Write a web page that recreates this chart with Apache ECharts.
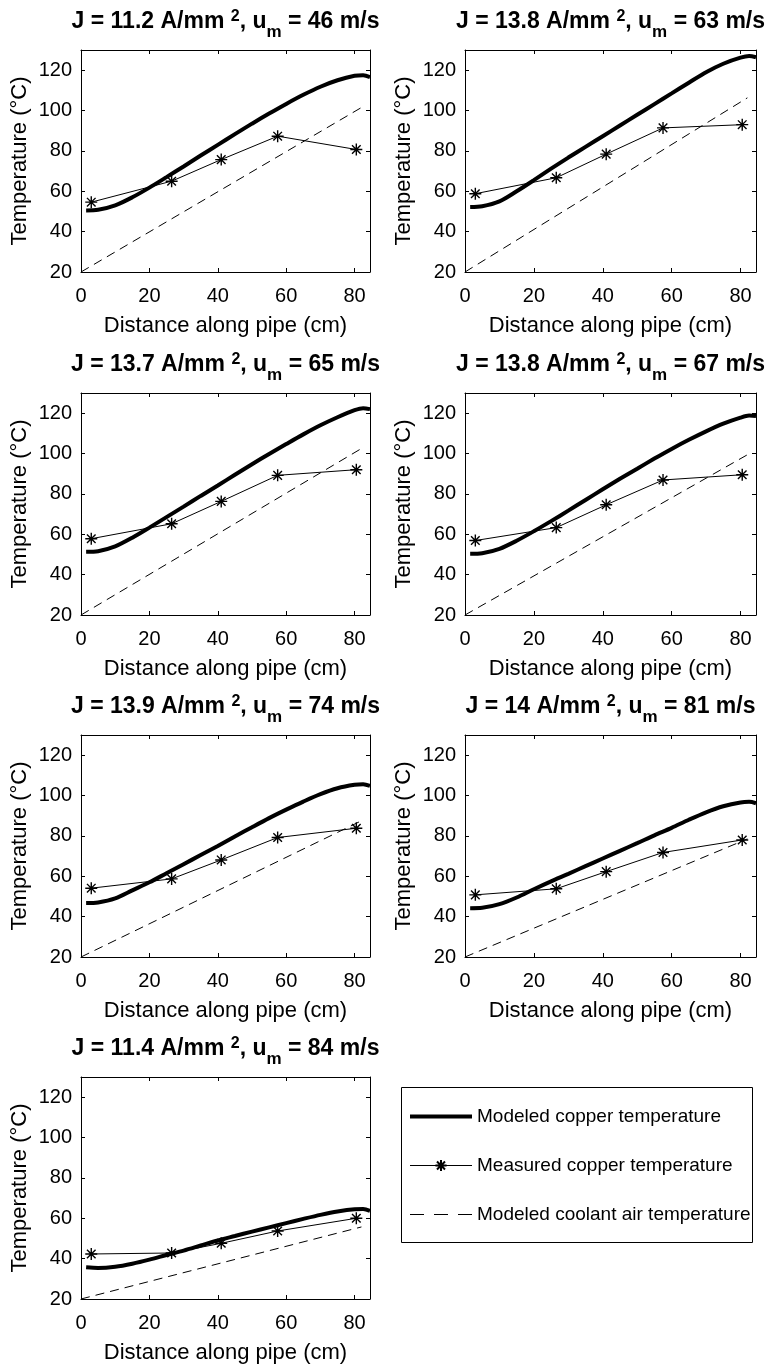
<!DOCTYPE html>
<html><head><meta charset="utf-8">
<script src="https://cdn.jsdelivr.net/npm/echarts@6/dist/echarts.min.js"></script>
<style>html,body{margin:0;padding:0;background:#fff}#c{width:768px;height:1367px}</style>
</head><body><div id="c"></div>
<script>
// ---------- data ----------
const currentDensity = ['11.2', '13.8', '13.7', '13.8', '13.9', '14', '11.4'];
const airSpeed = ['46', '63', '65', '67', '74', '81', '84'];

const xTickLabels = [0, 20, 40, 60, 80];
const yTickLabels = [20, 40, 60, 80, 100, 120];

// positions along the pipe where the modelled copper curve was read (cm)
const modelX = [1.5, 5, 10, 15, 20, 25, 30, 35, 40, 45, 50, 55, 60, 65, 70, 75, 80, 82.5, 84.5];
const copperP1 = [50.5, 50.8, 53, 57, 61.8, 67, 72.3, 77.7, 83, 88.3, 93.5, 98.5, 103.3, 107.8, 111.8, 115, 117.2, 117.5, 116.6];
const copperP2 = [52.2, 52.6, 55, 60, 65.5, 71.2, 76.7, 82, 87.3, 92.6, 97.9, 103.2, 108.5, 113.8, 119, 123.2, 126.2, 127, 126.4];
const copperP3 = [51.3, 51.6, 54, 58.3, 63.3, 68.5, 73.7, 79, 84.2, 89.5, 94.7, 99.8, 104.7, 109.5, 114, 118, 121.5, 122.5, 122];
const copperP4 = [50.3, 50.6, 52.8, 56.8, 61.5, 66.5, 71.7, 77, 82.3, 87.5, 92.5, 97.5, 102.3, 106.8, 111, 114.8, 117.8, 118.8, 118.6];
const copperP5 = [46.7, 47, 49, 53, 57, 61.5, 66, 70.5, 75, 79.7, 84.3, 88.8, 93, 97, 100.7, 103.6, 105.3, 105.6, 104.8];
const copperP6 = [44.2, 44.4, 46.2, 49.5, 53.6, 57.5, 61.2, 65, 68.8, 72.6, 76.4, 80.3, 84, 88, 91.7, 94.7, 96.6, 96.9, 96.2];
const copperP7 = [35.7, 35.4, 36, 37.5, 39.5, 41.8, 44, 46.5, 49, 51.2, 53.4, 55.5, 57.6, 59.7, 61.7, 63.4, 64.5, 64.6, 63.7];

// thermocouple positions (cm) and measured copper temperatures
const measuredX = [3, 26.5, 41, 57.5, 80.5];
const measuredP1 = [54.6, 65, 75.7, 87.3, 80.7];
const measuredP2 = [58.8, 66.7, 78.4, 91.4, 93];
const measuredP3 = [57.8, 65.2, 76.3, 89.2, 92];
const measuredP4 = [56.9, 63.3, 74.6, 86.9, 89.5];
const measuredP5 = [54.1, 58.7, 68.1, 79.2, 83.8];
const measuredP6 = [50.8, 53.8, 62.3, 71.8, 78];
const measuredP7 = [42.3, 42.8, 47.6, 53.7, 60];

// modelled coolant air temperature (straight rise along the pipe)
const coolantX = [0, 82];
const coolantP1 = [20, 101.5];
const coolantP2 = [20, 106.3];
const coolantP3 = [20, 102.5];
const coolantP4 = [20, 99.4];
const coolantP5 = [20, 87.5];
const coolantP6 = [20, 78.5];
const coolantP7 = [20, 55.7];

const copperAll = [copperP1, copperP2, copperP3, copperP4, copperP5, copperP6, copperP7];
const measuredAll = [measuredP1, measuredP2, measuredP3, measuredP4, measuredP5, measuredP6, measuredP7];
const coolantAll = [coolantP1, coolantP2, coolantP3, coolantP4, coolantP5, coolantP6, coolantP7];

const NAME_COPPER = 'Modeled copper temperature';
const NAME_MEAS = 'Measured copper temperature';
const NAME_AIR = 'Modeled coolant air temperature';

// ---------- layout ----------
const FONT = "'Liberation Sans', Arial, Helvetica, sans-serif";
const X_MIN = 0, X_MAX = 84.5, Y_MIN = 20, Y_MAX = 130;
const colLeft = [81, 465];
const colWidth = [289, 291];
const rowTop = [50, 393, 735, 1077];
const plotH = 222;
const STAR = 'path://M0,-6L0,6M-6,0L6,0M-4.3,-4.3L4.3,4.3M-4.3,4.3L4.3,-4.3';

const grids = [], xAxes = [], yAxes = [], series = [], graphics = [];
const lineAxis = {show: true, onZero: false, lineStyle: {color: '#000', width: 1}};
const tickIn = {show: true, inside: true, length: 4, lineStyle: {color: '#000', width: 1}};

for (let g = 0; g < 7; g++) {
  const row = Math.floor(g / 2), col = g % 2;
  const left = colLeft[col], top = rowTop[row], w = colWidth[col];
  grids.push({left: left, top: top, width: w, height: plotH, show: false, containLabel: false, outerBoundsMode: 'none'});
  xAxes.push({
    type: 'value', gridIndex: g, position: 'bottom', min: X_MIN, max: X_MAX, interval: 20,
    name: 'Distance along pipe (cm)', nameLocation: 'middle', nameGap: 43,
    nameTextStyle: {fontSize: 22, color: '#000', fontFamily: FONT},
    axisLine: lineAxis, axisTick: tickIn, splitLine: {show: false},
    axisLabel: {fontSize: 20, color: '#000', fontFamily: FONT, margin: 14,
      formatter: v => xTickLabels.indexOf(v) >= 0 ? String(v) : ''}
  });
  xAxes.push({
    type: 'value', gridIndex: g, position: 'top', min: X_MIN, max: X_MAX, interval: 20,
    axisLine: lineAxis, axisTick: tickIn, splitLine: {show: false}, axisLabel: {show: false}
  });
  yAxes.push({
    type: 'value', gridIndex: g, position: 'left', min: Y_MIN, max: Y_MAX, interval: 20,
    name: 'Temperature (°C)', nameLocation: 'middle', nameGap: 50,
    nameTextStyle: {fontSize: 22, color: '#000', fontFamily: FONT},
    axisLine: lineAxis, axisTick: tickIn, splitLine: {show: false},
    axisLabel: {fontSize: 20, color: '#000', fontFamily: FONT, margin: 9,
      formatter: v => yTickLabels.indexOf(v) >= 0 ? String(v) : ''}
  });
  yAxes.push({
    type: 'value', gridIndex: g, position: 'right', min: Y_MIN, max: Y_MAX, interval: 20,
    axisLine: lineAxis, axisTick: tickIn, splitLine: {show: false}, axisLabel: {show: false}
  });
  const xi = 2 * g, yi = 2 * g;
  series.push({
    name: NAME_COPPER, type: 'line', xAxisIndex: xi, yAxisIndex: yi,
    data: modelX.map((x, k) => [x, copperAll[g][k]]),
    symbol: 'none', smooth: 0.3, silent: true,
    lineStyle: {color: '#000', width: 4}, itemStyle: {color: '#000'}, z: 2
  });
  series.push({
    name: NAME_MEAS, type: 'line', xAxisIndex: xi, yAxisIndex: yi,
    data: measuredX.map((x, k) => [x, measuredAll[g][k]]),
    symbol: STAR, symbolSize: 12, showSymbol: true, silent: true,
    lineStyle: {color: '#000', width: 1},
    itemStyle: {color: '#000', borderColor: '#000', borderWidth: 1.4}, z: 3
  });
  series.push({
    name: NAME_AIR, type: 'line', xAxisIndex: xi, yAxisIndex: yi,
    data: coolantX.map((x, k) => [x, coolantAll[g][k]]),
    symbol: 'none', silent: true,
    lineStyle: {color: '#000', width: 1, type: [9, 6]}, itemStyle: {color: '#000'}, z: 2
  });
  // panel title with superscript / subscript
  graphics.push({
    type: 'text', x: left + w / 2, y: top - 28, silent: true,
    style: {
      text: '{t|J = ' + currentDensity[g] + ' A/mm }{s|2}{t|, u}{b|m}{t| = ' + airSpeed[g] + ' m/s}',
      align: 'center', verticalAlign: 'middle',
      rich: {
        t: {fontSize: 23, fontWeight: 'bold', fontFamily: FONT, fill: '#000', lineHeight: 23, verticalAlign: 'middle'},
        s: {fontSize: 16, fontWeight: 'bold', fontFamily: FONT, fill: '#000', lineHeight: 16, padding: [0, 0, 11, 0], verticalAlign: 'middle'},
        b: {fontSize: 17, fontWeight: 'bold', fontFamily: FONT, fill: '#000', lineHeight: 17, padding: [21, 0, 0, 0], verticalAlign: 'middle'}
      }
    }
  });
}

// legend frame
graphics.push({
  type: 'rect', silent: true,
  shape: {x: 401.5, y: 1087.5, width: 351, height: 155},
  style: {fill: 'none', stroke: '#000', lineWidth: 1}
});

const option = {
  backgroundColor: '#fff',
  animation: false,
  textStyle: {fontFamily: FONT},
  grid: grids,
  xAxis: xAxes,
  yAxis: yAxes,
  series: series,
  legend: {
    orient: 'vertical', left: 408, top: 1107, padding: 0, itemGap: 30,
    itemWidth: 62, itemHeight: 14, selectedMode: false,
    textStyle: {fontSize: 19, color: '#000', fontFamily: FONT},
    data: [
      {name: NAME_COPPER, itemStyle: {opacity: 0}, lineStyle: {width: 4, color: '#000', type: 'solid'}},
      {name: NAME_MEAS, lineStyle: {width: 1, color: '#000', type: 'solid'}},
      {name: NAME_AIR, itemStyle: {opacity: 0}, lineStyle: {width: 1, color: '#000', type: [14, 10]}}
    ]
  },
  graphic: graphics
};

const chart = echarts.init(document.getElementById('c'), null, {renderer: 'canvas', width: 768, height: 1367});
chart.setOption(option);
</script>
</body></html>
